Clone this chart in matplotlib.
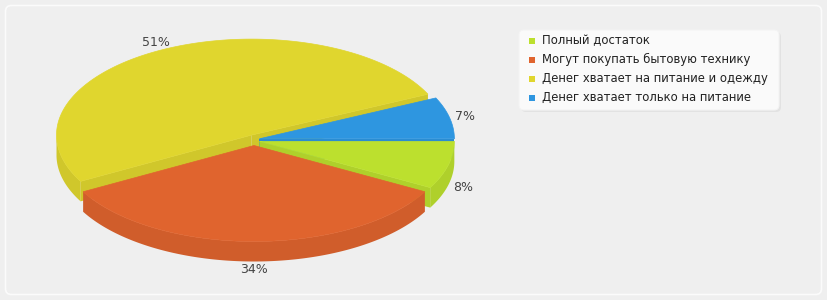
import numpy as np
import matplotlib.pyplot as plt
from matplotlib.patches import Polygon, FancyBboxPatch, Rectangle
from matplotlib.colors import to_rgb

# data
labels = ["Полный достаток", "Могут покупать бытовую технику",
          "Денег хватает на питание и одежду", "Денег хватает только на питание"]
shares = [8, 34, 51, 7]
colors = ["#bce02e", "#e0642e", "#e0d62e", "#2e96e0"]

# pie geometry in pixels
W, H = 827, 300
cx, cy = 254, 140
rx, ry = 195, 96
depth = 20
explode = 5.5  # px


def shade(c, f):
    r, g, b = to_rgb(c)
    return (r * f, g * f, b * f)


def pt(t, ox, oy, k=1.0, dz=0.0):
    return (cx + ox + k * rx * np.cos(t), cy + oy - k * ry * np.sin(t) + dz)


fig = plt.figure(figsize=(W / 100, H / 100), dpi=100)
fig.patch.set_facecolor("#efefef")
ax = fig.add_axes([0, 0, 1, 1])
ax.set_xlim(0, W)
ax.set_ylim(H, 0)
ax.axis("off")

ax.add_patch(FancyBboxPatch((5.5, 5.5), W - 11, H - 11, boxstyle="round,pad=0,rounding_size=6",
                            fc="none", ec="#fbfbfb", lw=1.2))

# slice angles (clockwise from 3 o'clock)
fr = np.array(shares) / sum(shares)
ends = -2 * np.pi * np.cumsum(fr)
starts = np.concatenate([[0], ends[:-1]])
mids = (starts + ends) / 2

# draw back slices first
order = np.argsort(-np.sin(mids))
for i in order:
    a0, a1 = ends[i], starts[i]  # a0 < a1
    ox = explode * np.cos(mids[i])
    oy = -explode * np.sin(mids[i])
    c = colors[i]
    ctr = (cx + ox, cy + oy)
    ctr_b = (cx + ox, cy + oy + depth)

    # radial cut faces
    for a, nrm in ((a0, a0 - np.pi / 2), (a1, a1 + np.pi / 2)):
        if np.sin(nrm) < 0:
            p, pb = pt(a, ox, oy), pt(a, ox, oy, dz=depth)
            ax.add_patch(Polygon([ctr, p, pb, ctr_b], closed=True,
                                 fc=shade(c, 0.93), ec="none", zorder=2))

    # outer wall, front part only
    tt = np.linspace(a0, a1, 300)
    front = np.sin(tt) < 0
    if front.any():
        seg = tt[front]
        top = [pt(v, ox, oy) for v in seg]
        bot = [pt(v, ox, oy, dz=depth) for v in seg[::-1]]
        ax.add_patch(Polygon(top + bot, closed=True, fc=shade(c, 0.93),
                             ec="none", zorder=2))

    # top face
    arc = [pt(v, ox, oy) for v in tt]
    ax.add_patch(Polygon([ctr] + arc, closed=True, fc=c, ec=c,
                         lw=0.5, zorder=3))

    # percent label
    lx, ly = pt(mids[i], ox, oy, k=1.08)
    if np.sin(mids[i]) < 0:
        ly += depth
    ax.text(lx, ly, f"{shares[i]}%", ha="center", va="center",
            fontsize=9, color="#444444", zorder=5)

# legend
ax.add_patch(FancyBboxPatch((521, 32), 260, 80, boxstyle="round,pad=0,rounding_size=5",
                            fc="#e2e2e2", ec="none", zorder=4))
ax.add_patch(FancyBboxPatch((519, 30), 260, 80, boxstyle="round,pad=0,rounding_size=5",
                            fc="#fafafa", ec="#f4f4f4", lw=0.8, zorder=4))
for k, (lab, c) in enumerate(zip(labels, colors)):
    y = 40.5 + k * 19
    ax.add_patch(Rectangle((529, y - 3), 6, 6, fc=c, ec="none", zorder=5))
    ax.text(542, y, lab, ha="left", va="center", fontsize=8.35, color="#222222", zorder=5)

fig.savefig("out.png", dpi=100, facecolor=fig.get_facecolor())
